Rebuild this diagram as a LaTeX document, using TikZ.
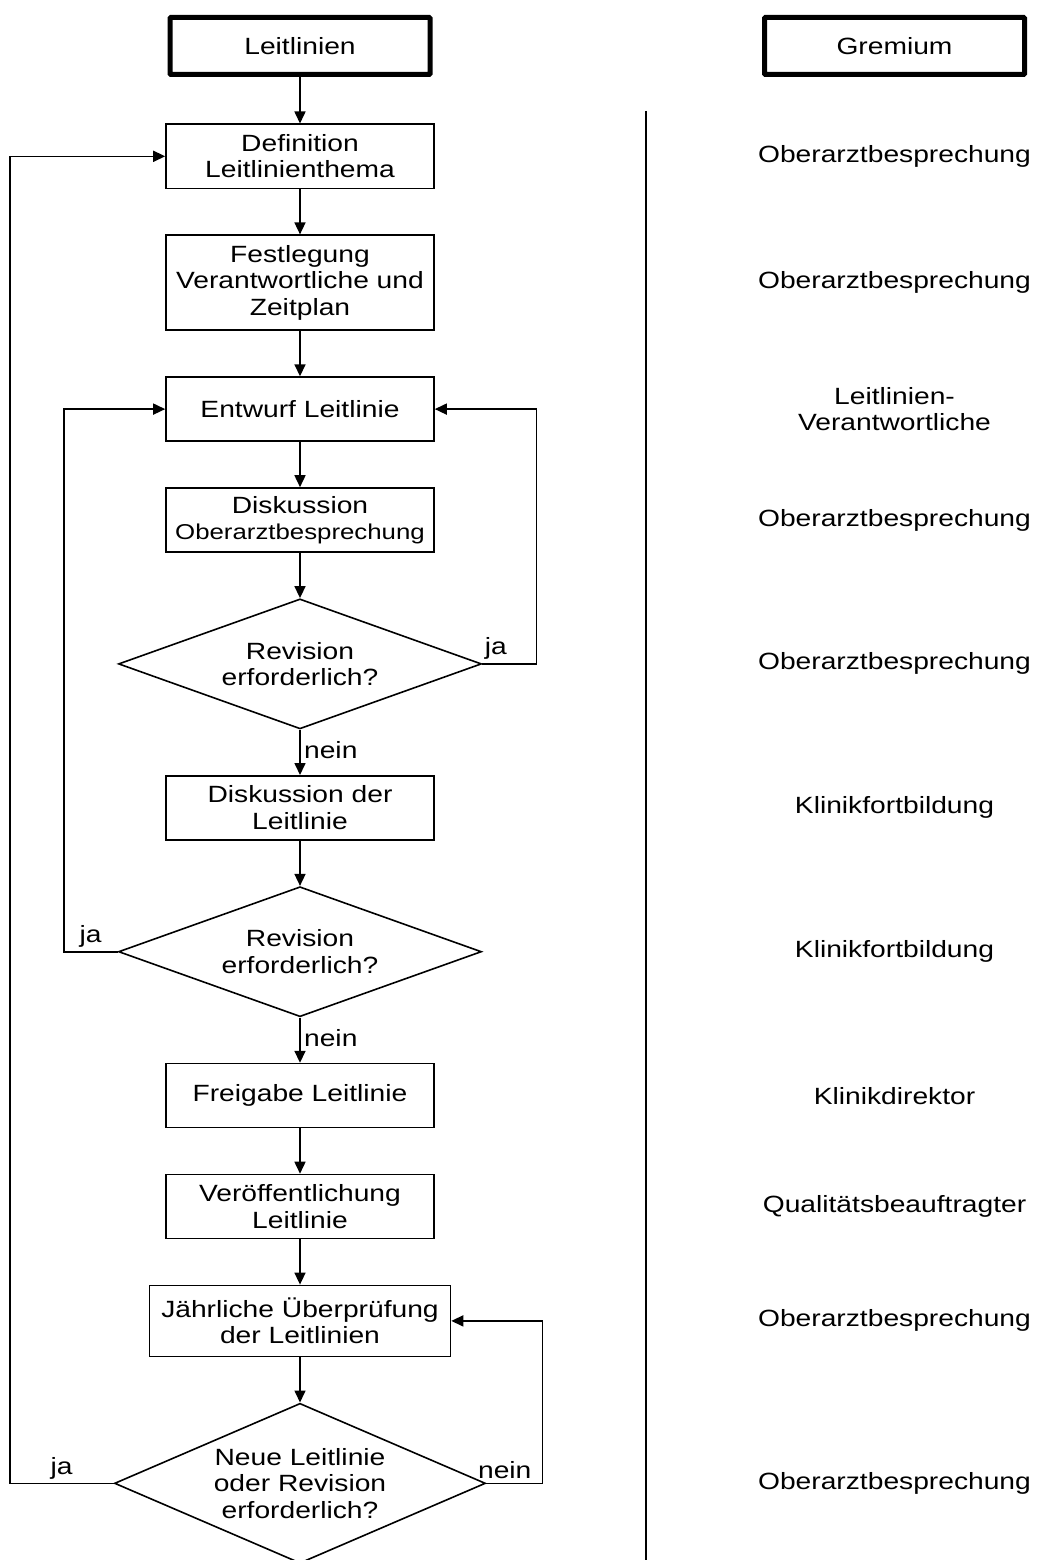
\documentclass[tikz,border=0pt]{standalone}
\usepackage{fontspec}
\setmainfont{Liberation Sans}[FakeStretch=1.2]
\usepackage{tikz}
\usetikzlibrary{arrows.meta, positioning, shapes.geometric}

\newcommand{\flowsize}{\fontsize{23.5}{26.5}\selectfont}

\begin{document}
\begin{tikzpicture}[
    x=1pt, y=-1pt,
    node distance=45.3pt,
    line width=1.6pt,
    font=\flowsize,
    headbox/.style={rectangle, draw, line width=5pt, rounded corners=1pt, minimum width=260pt, minimum height=57pt},
    stepbox/.style={rectangle, draw, minimum width=268pt, minimum height=64pt, align=center},
    decision/.style={diamond, draw, aspect=2.8, inner sep=0pt, minimum width=363pt, minimum height=130pt, align=center},
    role/.style={align=center},
    edge/.style={-{Triangle[length=12pt, width=11pt]}}
]
    \useasboundingbox (0,0) rectangle (1040,1560);
    \clip (0,0) rectangle (1040,1560);

    % headers
    \node[headbox] (leit) at (300,46) {Leitlinien};
    \node[headbox] (grem) at (894.5,46) {Gremium};

    % process chain
    \node[stepbox, below=46.5pt of leit] (def) {Definition\\Leitlinienthema};
    \node[stepbox, minimum height=95pt, below=of def] (fest) {Festlegung\\Verantwortliche und\\Zeitplan};
    \node[stepbox, below=of fest] (entw) {Entwurf Leitlinie};
    \node[stepbox, below=of entw] (disk) {Diskussion\\{\fontsize{21.5}{26.5}\selectfont Oberarztbesprechung}};
    \node[decision, below=of disk] (rev1) {Revision\\erforderlich?};
    \node[stepbox, below=of rev1] (klin) {Diskussion der\\Leitlinie};
    \node[decision, below=of klin] (rev2) {Revision\\erforderlich?};
    \node[stepbox, below=of rev2] (frei) {Freigabe Leitlinie};
    \node[stepbox, below=of frei] (publ) {Veröffentlichung\\Leitlinie};
    \node[stepbox, minimum width=301pt, minimum height=71pt, below=of publ] (pruef) {Jährliche Überprüfung\\der Leitlinien};
    \node[decision, minimum width=371pt, minimum height=160pt, below=of pruef] (rev3) {Neue Leitlinie\\oder Revision\\erforderlich?};

    % committee column
    \draw (646,111) -- (646,1560);
    \node[role] (g1) at (grem |- def) {Oberarztbesprechung};
    \node[role] (g2) at (grem |- fest) {Oberarztbesprechung};
    \node[role] (g3) at (grem |- entw) {Leitlinien-\\Verantwortliche};
    \node[role] (g4) at (grem |- disk) {Oberarztbesprechung};
    \node[role] (g5) at (grem |- rev1) {Oberarztbesprechung};
    \node[role] (g6) at (grem |- klin) {Klinikfortbildung};
    \node[role] (g7) at (grem |- rev2) {Klinikfortbildung};
    \node[role] (g8) at (grem |- frei) {Klinikdirektor};
    \node[role] (g9) at (grem |- publ) {Qualitätsbeauftragter};
    \node[role] (g10) at (grem |- pruef) {Oberarztbesprechung};
    \node[role] (g11) at (grem |- rev3) {Oberarztbesprechung};

    % main flow
    \draw[edge] (leit) -- (def);
    \draw[edge] (def) -- (fest);
    \draw[edge] (fest) -- (entw);
    \draw[edge] (entw) -- (disk);
    \draw[edge] (disk) -- (rev1);
    \draw[edge] (rev1) -- node[right, pos=0.45] (nein1) {nein} (klin);
    \draw[edge] (klin) -- (rev2);
    \draw[edge] (rev2) -- node[right, pos=0.45] (nein2) {nein} (frei);
    \draw[edge] (frei) -- (publ);
    \draw[edge] (publ) -- (pruef);
    \draw[edge] (pruef) -- (rev3);

    % loops back
    \draw[edge] (rev1.east) -- node[above, pos=0.25] (ja1) {ja} ++(54,0) |- (entw.east);
    \draw[edge] (rev2.west) -- node[above] (ja2) {ja} ++(-54,0) |- (entw.west);
    \draw[edge] (rev3.east) -- node[above, pos=0.33] (nein3) {nein} ++(56,0) |- (pruef.east);
    \draw[edge] (rev3.west) -- node[above] (ja3) {ja} ++(-104,0) |- (def.west);
\end{tikzpicture}
\end{document}
